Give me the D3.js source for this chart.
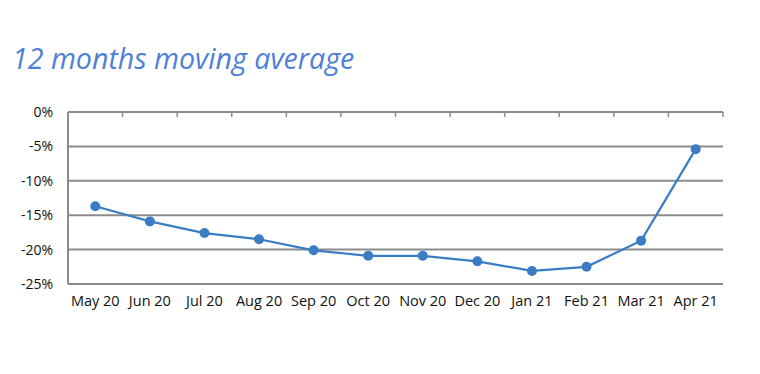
<!DOCTYPE html>
<html>
<head>
<meta charset="utf-8">
<script src="https://cdn.jsdelivr.net/npm/d3@7"></script>
<style>
  body { margin: 0; background: #fff; }
  svg { display: block; }
</style>
</head>
<body>
<script>
var months = ['May 20', 'Jun 20', 'Jul 20', 'Aug 20', 'Sep 20', 'Oct 20',
              'Nov 20', 'Dec 20', 'Jan 21', 'Feb 21', 'Mar 21', 'Apr 21'];
var values = [-13.7, -15.9, -17.6, -18.5, -20.1, -20.9,
              -20.9, -21.7, -23.1, -22.5, -18.7, -5.4];
var yTicks = [0, -5, -10, -15, -20, -25];

var w = 760, h = 374;
var plotLeft = 68, plotRight = 723, plotTop = 112, plotBottom = 284;

var svg = d3.select('body').append('svg')
    .attr('width', w)
    .attr('height', h);

svg.append('text')
    .attr('x', 12)
    .attr('y', 69)
    .attr('fill', '#4f7fd6')
    .style('font-family', 'Open Sans')
    .style('font-style', 'italic')
    .style('font-size', '28.6px')
    .text('12 months moving average');

var x = d3.scaleBand().domain(months).range([plotLeft, plotRight]);
var y = d3.scaleLinear().domain([-25, 0]).range([plotBottom, plotTop]);

// gridlines
svg.append('g')
    .selectAll('line')
    .data(yTicks)
    .enter()
    .append('line')
    .attr('x1', plotLeft)
    .attr('x2', plotRight)
    .attr('y1', function(d) { return y(d); })
    .attr('y2', function(d) { return y(d); })
    .attr('stroke', '#8c8c8c')
    .attr('stroke-width', 2);

// left axis line
svg.append('line')
    .attr('x1', plotLeft).attr('x2', plotLeft)
    .attr('y1', plotTop).attr('y2', plotBottom)
    .attr('stroke', '#8c8c8c')
    .attr('stroke-width', 2);

// category ticks on the 0% line
svg.append('g')
    .selectAll('line')
    .data(months)
    .enter()
    .append('line')
    .attr('x1', function(d) { return x(d) + x.bandwidth(); })
    .attr('x2', function(d) { return x(d) + x.bandwidth(); })
    .attr('y1', plotTop)
    .attr('y2', plotTop + 5)
    .attr('stroke', '#8c8c8c')
    .attr('stroke-width', 1.5);

// y labels
svg.append('g')
    .selectAll('text')
    .data(yTicks)
    .enter()
    .append('text')
    .attr('x', 53)
    .attr('y', function(d) { return y(d) + 5; })
    .attr('text-anchor', 'end')
    .attr('fill', '#111')
    .style('font-family', 'Open Sans')
    .style('font-size', '14px')
    .text(function(d) { return d + '%'; });

// x labels
svg.append('g')
    .selectAll('text')
    .data(months)
    .enter()
    .append('text')
    .attr('x', function(d) { return x(d) + x.bandwidth() / 2; })
    .attr('y', 306)
    .attr('text-anchor', 'middle')
    .attr('fill', '#111')
    .style('font-family', 'Open Sans')
    .style('font-size', '14.5px')
    .text(function(d) { return d; });

var line = d3.line()
    .x(function(d, i) { return x(months[i]) + x.bandwidth() / 2; })
    .y(function(d) { return y(d); });

svg.append('path')
    .datum(values)
    .attr('d', line)
    .attr('fill', 'none')
    .attr('stroke', '#3b7dc4')
    .attr('stroke-width', 2.2);

svg.selectAll('circle')
    .data(values)
    .enter()
    .append('circle')
    .attr('cx', function(d, i) { return x(months[i]) + x.bandwidth() / 2; })
    .attr('cy', function(d) { return y(d); })
    .attr('r', 5)
    .attr('fill', '#3b7dc4');
</script>
</body>
</html>
